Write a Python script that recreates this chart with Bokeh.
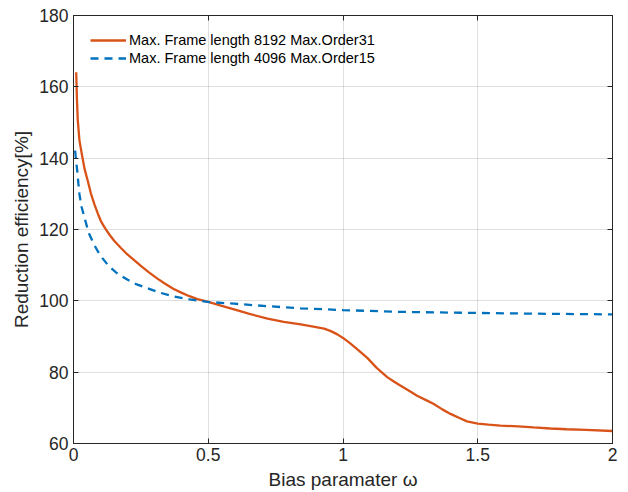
from bokeh.plotting import figure
from bokeh.models import LinearAxis, FixedTicker, Range1d, Legend, LegendItem
from bokeh.embed import file_html
from bokeh.resources import INLINE

# Data
x_orange = [0.01, 0.013, 0.016, 0.022, 0.031, 0.041, 0.053, 0.065, 0.078, 0.09, 0.102, 0.117,
            0.133, 0.15, 0.176, 0.2, 0.225, 0.25, 0.28, 0.31, 0.34, 0.37, 0.4, 0.43, 0.46, 0.497,
            0.55, 0.596, 0.65, 0.72, 0.78, 0.843, 0.89, 0.93, 0.955, 0.979, 1.0, 1.028, 1.06,
            1.09, 1.125, 1.164, 1.19, 1.214, 1.245, 1.275, 1.31, 1.337, 1.37, 1.399, 1.43,
            1.46, 1.5, 1.54, 1.584, 1.65, 1.707, 1.77, 1.83, 1.9, 2.0]
y_orange = [164.1, 156.0, 150.5, 145.0, 141.1, 137.0, 133.6, 130.0, 127.0, 124.5, 122.3, 120.4,
            118.6, 116.9, 114.8, 113.0, 111.4, 109.8, 108.0, 106.3, 104.8, 103.4, 102.3, 101.3, 100.5, 99.8,
            98.6, 97.6, 96.4, 95.0, 94.1, 93.4, 92.8, 92.2, 91.5, 90.6, 89.6, 88.0, 86.0,
            84.0, 81.2, 78.6, 77.3, 76.2, 74.8, 73.4, 72.1, 71.1, 69.5, 68.3, 67.2,
            66.2, 65.6, 65.3, 65.0, 64.8, 64.5, 64.2, 64.0, 63.8, 63.5]

x_blue = [0.006, 0.01, 0.014, 0.018, 0.022, 0.03, 0.041, 0.05, 0.059, 0.075, 0.09, 0.108, 0.127,
          0.16, 0.201, 0.235, 0.275, 0.32, 0.374, 0.43, 0.497,
          0.596, 0.72, 0.843, 1.0, 1.214, 1.5, 1.707, 2.0]
y_blue = [142.1, 139.0, 136.4, 133.0, 129.9, 126.3, 123.3, 120.8, 118.6, 116.0, 113.9, 111.9, 110.1,
          107.8, 105.9, 104.6, 103.5, 102.3, 101.2, 100.4, 99.7,
          99.2, 98.5, 97.9, 97.4, 96.9, 96.6, 96.4, 96.2]

x_ticks = [0, 0.5, 1, 1.5, 2]
x_tick_labels = ["0", "0.5", "1", "1.5", "2"]
y_ticks = [60, 80, 100, 120, 140, 160, 180]

label_orange = "Max. Frame length 8192 Max.Order31"
label_blue = "Max. Frame length 4096 Max.Order15"

FONT = "Liberation Sans"
AX = "#262626"

p = figure(width=628, height=492, output_backend="svg", toolbar_location=None,
           x_range=Range1d(0, 2), y_range=Range1d(60, 180),
           min_border_left=73, min_border_right=16, min_border_top=15, min_border_bottom=49)
p.outline_line_color = AX
p.outline_line_width = 1
p.background_fill_color = "white"
p.border_fill_color = "white"

r1 = p.line(x_orange, y_orange, line_color="#D95319", line_width=2.3)
r2 = p.line(x_blue, y_blue, line_color="#0072BD", line_width=2.3, line_dash="8 6")

def style_axis(ax, labels=True):
    ax.axis_line_color = AX
    ax.major_tick_line_color = AX
    ax.major_tick_in = 5
    ax.major_tick_out = 0
    ax.minor_tick_line_color = None
    ax.major_label_text_font = FONT
    ax.major_label_text_font_size = "17.5px"
    ax.major_label_text_color = "#262626" if labels else None
    ax.axis_label_text_font = FONT
    ax.axis_label_text_font_size = "19px"
    ax.axis_label_text_font_style = "normal"
    ax.axis_label_text_color = "#262626"

xax = p.xaxis[0]
yax = p.yaxis[0]
xax.ticker = FixedTicker(ticks=x_ticks)
xax.major_label_overrides = {t: l for t, l in zip(x_ticks, x_tick_labels)}
yax.ticker = FixedTicker(ticks=y_ticks)
style_axis(xax)
style_axis(yax)
xax.axis_label = "Bias paramater ω"
yax.axis_label = "Reduction efficiency[%]"
xax.major_label_standoff = 4
xax.axis_label_standoff = 5
yax.major_label_standoff = 5
yax.axis_label_standoff = 4

top = LinearAxis(ticker=FixedTicker(ticks=x_ticks), major_label_text_font_size="0px")
right = LinearAxis(ticker=FixedTicker(ticks=y_ticks), major_label_text_font_size="0px")
for ax in (top, right):
    style_axis(ax, labels=False)
    ax.major_label_text_font_size = "0px"
    ax.major_label_standoff = 0
p.add_layout(top, "above")
p.add_layout(right, "right")

p.xgrid.ticker = FixedTicker(ticks=x_ticks)
p.ygrid.ticker = FixedTicker(ticks=y_ticks)
for g in (p.xgrid[0], p.ygrid[0]):
    g.grid_line_color = AX
    g.grid_line_alpha = 0.15

legend = Legend(items=[LegendItem(label=label_orange, renderers=[r1]),
                       LegendItem(label=label_blue, renderers=[r2])],
                location="top_left")
legend.border_line_color = None
legend.background_fill_alpha = 0
legend.margin = 17
legend.padding = 0
legend.spacing = 2
legend.glyph_width = 36
legend.glyph_height = 16
legend.label_height = 16
legend.label_standoff = 3
legend.label_text_font = FONT
legend.label_text_font_size = "14.5px"
legend.label_text_color = "black"
p.add_layout(legend, "center")

open("out.html", "w").write(file_html(p, INLINE))
